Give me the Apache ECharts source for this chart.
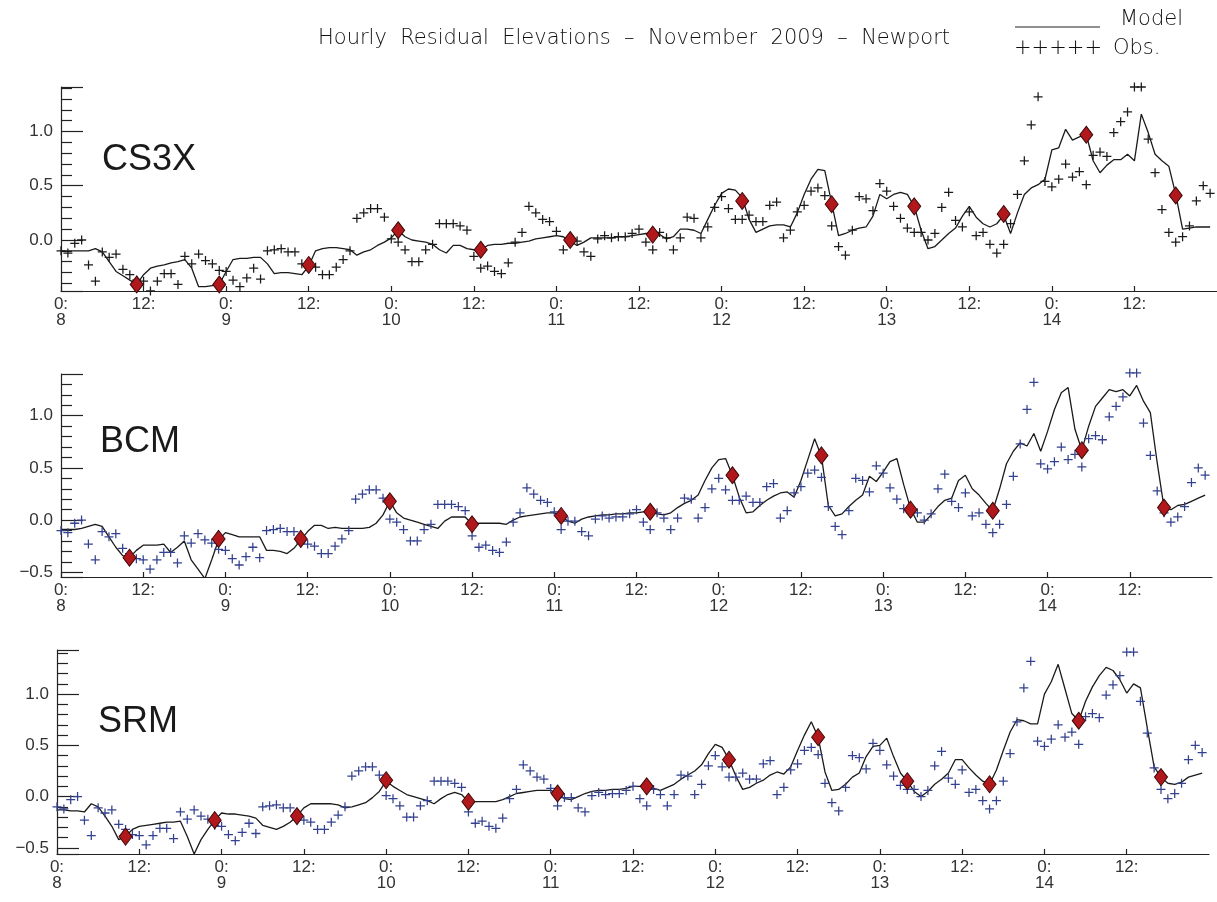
<!DOCTYPE html>
<html>
<head>
<meta charset="utf-8">
<title>Hourly Residual Elevations - November 2009 - Newport</title>
<script src="https://cdn.jsdelivr.net/npm/echarts@6/dist/echarts.min.js"></script>
<style>
  html, body { margin: 0; padding: 0; background: #fff; }
  #chart { width: 1217px; height: 902px; }
</style>
</head>
<body>
<div id="chart"></div>
<script>
// hourly values from 8 Nov 2009 0:00, index = hour
var obs = [
  -0.10, -0.12, -0.03, 0.00, -0.23, -0.38, -0.11, -0.16, -0.13, -0.27,
  -0.32, -0.37, -0.38, -0.47, -0.38, -0.31, -0.31, -0.41, -0.15, -0.22,
  -0.13, -0.19, -0.22, -0.28, -0.29, -0.37, -0.43, -0.35, -0.26, -0.36,
  -0.10, -0.09, -0.08, -0.11, -0.11, -0.22, -0.23, -0.25, -0.32, -0.32,
  -0.25, -0.18, -0.10, 0.20, 0.25, 0.29, 0.29, 0.21, 0.01, -0.02,
  -0.09, -0.20, -0.20, -0.09, -0.04, 0.15, 0.15, 0.15, 0.13, 0.09,
  -0.15, -0.26, -0.24, -0.29, -0.31, -0.21, -0.02, 0.07, 0.31, 0.25,
  0.19, 0.17, 0.08, -0.09, -0.01, -0.01, -0.11, -0.15, 0.01, 0.04,
  0.02, 0.03, 0.03, 0.06, 0.10, -0.02, -0.09, 0.07, 0.02, -0.09,
  0.02, 0.21, 0.20, 0.02, 0.12, 0.30, 0.40, 0.29, 0.19, 0.19,
  0.23, 0.17, 0.17, 0.32, 0.35, 0.02, 0.09, 0.26, 0.32, 0.45,
  0.48, 0.41, 0.13, -0.06, -0.14, 0.09, 0.40, 0.38, 0.27, 0.52,
  0.45, 0.31, 0.20, 0.11, 0.07, 0.07, 0.00, 0.06, 0.30, 0.44,
  0.18, 0.12, 0.26, 0.04, 0.07, -0.04, -0.12, -0.04, 0.15, 0.42,
  0.73, 1.06, 1.32, 0.54, 0.49, 0.56, 0.70, 0.58, 0.63, 0.51,
  0.78, 0.81, 0.77, 0.99, 1.09, 1.18, 1.41, 1.41, 0.93, 0.62,
  0.28, 0.07, -0.02, 0.03, 0.13, 0.36, 0.50, 0.43
]

var cs3x = [
  -0.10, -0.10, -0.10, -0.10, -0.10, -0.08, -0.11, -0.20, -0.29, -0.33,
  -0.37, -0.41, -0.32, -0.26, -0.24, -0.23, -0.21, -0.20, -0.18, -0.26,
  -0.43, -0.43, -0.42, -0.41, -0.29, -0.18, -0.17, -0.17, -0.16, -0.16,
  -0.22, -0.31, -0.30, -0.30, -0.31, -0.32, -0.24, -0.10, -0.08, -0.07,
  -0.07, -0.08, -0.09, -0.14, -0.11, -0.09, -0.05, -0.02, 0.02, 0.09,
  0.03, 0.00, -0.01, -0.02, -0.04, -0.09, -0.12, -0.05, -0.05, -0.08,
  -0.09, -0.09, -0.05, -0.04, -0.04, -0.03, -0.03, -0.02, -0.01, 0.01,
  0.02, 0.03, 0.04, 0.03, -0.01, -0.05, -0.02, 0.02, 0.02, 0.02,
  0.02, 0.03, 0.03, 0.04, 0.05, 0.06, 0.06, 0.05, 0.01, 0.03,
  0.10, 0.10, 0.09, 0.06, 0.19, 0.32, 0.43, 0.47, 0.46, 0.39,
  0.19, 0.07, 0.10, 0.13, 0.14, 0.14, 0.12, 0.25, 0.42, 0.56,
  0.65, 0.64, 0.34, 0.04, 0.06, 0.09, 0.11, 0.12, 0.22, 0.42,
  0.38, 0.42, 0.44, 0.42, 0.31, 0.09, -0.08, -0.06, 0.00, 0.06,
  0.11, 0.22, 0.31, 0.21, 0.15, 0.12, 0.15, 0.23, 0.06, 0.25,
  0.42, 0.48, 0.51, 0.56, 0.83, 0.85, 1.02, 0.92, 0.95, 0.97,
  0.73, 0.62, 0.69, 0.74, 0.74, 0.79, 0.73, 1.16, 0.99, 0.79,
  0.73, 0.68, 0.42, 0.10, 0.11, 0.12, 0.12, 0.12
]

var bcm = [
  -0.09, -0.09, -0.09, -0.08, -0.06, -0.04, -0.06, -0.16, -0.26, -0.34,
  -0.36, -0.29, -0.24, -0.24, -0.24, -0.23, -0.31, -0.26, -0.20, -0.38,
  -0.47, -0.56, -0.38, -0.19, -0.12, -0.14, -0.16, -0.16, -0.16, -0.16,
  -0.29, -0.29, -0.30, -0.32, -0.27, -0.19, -0.11, -0.05, -0.05, -0.08,
  -0.07, -0.08, -0.08, -0.08, -0.08, -0.07, -0.03, 0.05, 0.18, 0.07,
  0.02, 0.00, -0.02, -0.04, -0.06, -0.08, -0.01, 0.03, 0.03, 0.03,
  -0.04, -0.03, -0.03, -0.03, -0.03, -0.04, 0.00, 0.03, 0.04, 0.05,
  0.06, 0.07, 0.07, 0.04, -0.01, -0.03, 0.01, 0.03, 0.04, 0.05,
  0.05, 0.06, 0.06, 0.07, 0.07, 0.08, 0.08, 0.06, 0.05, 0.07,
  0.12, 0.16, 0.19, 0.24, 0.38, 0.50, 0.58, 0.59, 0.43, 0.22,
  0.07, 0.08, 0.14, 0.19, 0.23, 0.26, 0.27, 0.22, 0.38, 0.58,
  0.78, 0.61, 0.14, 0.04, 0.06, 0.13, 0.19, 0.24, 0.42, 0.37,
  0.46, 0.56, 0.59, 0.34, 0.11, -0.02, -0.02, 0.05, 0.13, 0.19,
  0.21, 0.38, 0.43, 0.30, 0.24, 0.16, 0.09, 0.30, 0.54, 0.66,
  0.74, 0.71, 0.83, 0.66, 0.85, 1.06, 1.22, 1.27, 0.87, 0.67,
  0.90, 1.09, 1.17, 1.25, 1.23, 1.25, 1.19, 1.29, 1.14, 1.03,
  0.55, 0.12, 0.10, 0.14, 0.15, 0.18, 0.21, 0.24
]

var srm = [
  -0.13, -0.13, -0.14, -0.14, -0.15, -0.07, -0.10, -0.19, -0.29, -0.42,
  -0.39, -0.32, -0.29, -0.28, -0.27, -0.26, -0.25, -0.25, -0.24, -0.39,
  -0.56, -0.42, -0.32, -0.23, -0.16, -0.17, -0.17, -0.18, -0.19, -0.21,
  -0.28, -0.30, -0.32, -0.29, -0.25, -0.19, -0.11, -0.07, -0.07, -0.07,
  -0.07, -0.08, -0.11, -0.10, -0.08, -0.06, -0.01, 0.05, 0.15, 0.10,
  0.06, 0.02, 0.00, -0.02, -0.04, -0.07, -0.02, 0.02, 0.04, 0.02,
  -0.05, -0.05, -0.05, -0.05, -0.05, -0.03, 0.00, 0.03, 0.04, 0.05,
  0.06, 0.06, 0.06, 0.03, -0.02, -0.03, 0.00, 0.03, 0.05, 0.06,
  0.06, 0.07, 0.07, 0.08, 0.10, 0.10, 0.10, 0.08, 0.06, 0.09,
  0.12, 0.17, 0.21, 0.25, 0.31, 0.42, 0.51, 0.48, 0.36, 0.20,
  0.07, 0.09, 0.13, 0.16, 0.21, 0.24, 0.22, 0.29, 0.45, 0.60,
  0.73, 0.58, 0.24, 0.06, 0.07, 0.12, 0.19, 0.23, 0.39, 0.49,
  0.50, 0.57, 0.39, 0.23, 0.15, 0.05, 0.00, 0.05, 0.12, 0.17,
  0.23, 0.36, 0.36, 0.28, 0.21, 0.15, 0.12, 0.26, 0.45, 0.63,
  0.75, 0.74, 0.71, 0.71, 1.00, 1.12, 1.29, 1.05, 0.81, 0.74,
  0.93, 1.07, 1.18, 1.26, 1.23, 1.14, 1.01, 1.10, 1.06, 0.67,
  0.29, 0.19, 0.13, 0.12, 0.14, 0.19, 0.21, 0.23
]

// red diamonds: [hour, value]
var cs3xMarks = [[11, -0.41], [23, -0.41], [36, -0.23], [49, 0.09], [61, -0.09], [74, 0.00], [86, 0.05],
  [99, 0.36], [112, 0.33], [124, 0.31], [137, 0.24], [149, 0.97], [162, 0.41]]
var bcmMarks = [[10, -0.36], [23, -0.18], [35, -0.18], [48, 0.18], [60, -0.04], [73, 0.04], [86, 0.08],
  [98, 0.43], [111, 0.62], [124, 0.10], [136, 0.09], [149, 0.67], [161, 0.12]]
var srmMarks = [[10, -0.39], [23, -0.23], [35, -0.19], [48, 0.16], [60, -0.05], [73, 0.03], [86, 0.10],
  [98, 0.36], [111, 0.58], [124, 0.15], [136, 0.12], [149, 0.74], [161, 0.19]]

var days = [8, 9, 10, 11, 12, 13, 14, 15]

var panels = [
  {name: 'CS3X', model: cs3x, marks: cs3xMarks, obsColor: '#1a1a1a', left: 61, top: 87, width: 1159, height: 204, ymin: -0.47, ymax: 1.41, labelLeft: 102, labelTop: 142},
  {name: 'BCM', model: bcm, marks: bcmMarks, obsColor: '#33418f', left: 61, top: 374, width: 1151, height: 203, ymin: -0.545, ymax: 1.40, labelLeft: 100, labelTop: 424},
  {name: 'SRM', model: srm, marks: srmMarks, obsColor: '#33418f', left: 57, top: 650, width: 1152, height: 204, ymin: -0.56, ymax: 1.43, labelLeft: 98, labelTop: 704}
]

var plus = 'path://M4.3,0H5.7V4.3H10V5.7H5.7V10H4.3V5.7H0V4.3H4.3Z'
var axisColor = '#222'
var labelFont = 'Liberation Sans'
var headStyle = {fontFamily: 'DejaVu Sans', fontWeight: 200, fontSize: 21, color: '#111'}

function pairs (arr) {
  return arr.map(function (v, h) { return [h, v] })
}

var grids = [], xAxes = [], yAxes = [], series = []
var titles = [
  {text: 'Hourly  Residual  Elevations  \u2013  November  2009  \u2013  Newport', left: 318, top: 28, padding: 0, textStyle: headStyle},
  {text: 'Model', left: 1120, top: 9, padding: 0, textStyle: headStyle},
  {text: '+++++', left: 1014, top: 38, padding: 0, textStyle: headStyle},
  {text: 'Obs.', left: 1113, top: 38, padding: 0, textStyle: headStyle}
]

panels.forEach(function (p, i) {
  grids.push({left: p.left, top: p.top, width: p.width, height: p.height, containLabel: false})
  xAxes.push({
    type: 'value', gridIndex: i, min: 0, max: 168, interval: 12,
    axisLine: {onZero: false, lineStyle: {color: axisColor, width: 1.2}},
    axisTick: {inside: true, length: 5, lineStyle: {color: axisColor, width: 1.2}},
    splitLine: {show: false},
    axisLabel: {
      showMaxLabel: false, margin: 5, fontSize: 17, lineHeight: 16, color: '#333', fontFamily: labelFont,
      formatter: function (h) {
        if (h % 24 === 0) return '0:\n' + days[h / 24]
        return '12:'
      }
    }
  })
  yAxes.push({
    type: 'value', gridIndex: i, min: p.ymin, max: p.ymax, splitNumber: 4, minInterval: 0.5, maxInterval: 0.5,
    axisLine: {show: true, onZero: false, lineStyle: {color: axisColor, width: 1.2}},
    axisTick: {show: true, inside: true, length: 22, lineStyle: {color: axisColor, width: 1.2}},
    minorTick: {show: true, splitNumber: 5, length: 11, lineStyle: {color: axisColor, width: 1.2}},
    splitLine: {show: false},
    axisLabel: {
      showMinLabel: false, showMaxLabel: false, margin: 8, fontSize: 17, color: '#333', fontFamily: labelFont,
      formatter: function (v) {
        return v < 0 ? '\u2212' + Math.abs(v).toFixed(1) : v.toFixed(1)
      }
    }
  })
  titles.push({text: p.name, left: p.labelLeft, top: p.labelTop, padding: 0,
    textStyle: {fontFamily: 'Liberation Sans', fontWeight: 'normal', fontSize: 36, color: '#1a1a1a'}})

  series.push({
    name: p.name + ' model', type: 'line', xAxisIndex: i, yAxisIndex: i,
    data: pairs(p.model), showSymbol: false, symbol: 'none', z: 2,
    lineStyle: {color: '#1a1a1a', width: 1.3}
  })
  series.push({
    name: p.name + ' obs', type: 'scatter', xAxisIndex: i, yAxisIndex: i,
    data: pairs(obs), symbol: plus, symbolSize: 9, clip: false, z: 3,
    itemStyle: {color: p.obsColor, opacity: 1}
  })
  series.push({
    name: p.name + ' marks', type: 'scatter', xAxisIndex: i, yAxisIndex: i,
    data: p.marks, symbol: 'diamond', symbolSize: [13, 17], clip: false, z: 4,
    itemStyle: {color: '#b0181c', borderColor: '#3c0808', borderWidth: 1, opacity: 1}
  })
})

var chart = echarts.init(document.getElementById('chart'))
chart.setOption({
  animation: false,
  backgroundColor: '#fff',
  title: titles,
  grid: grids,
  xAxis: xAxes,
  yAxis: yAxes,
  series: series,
  graphic: [
    {type: 'line', shape: {x1: 1015, y1: 27, x2: 1100, y2: 27}, style: {stroke: '#222', lineWidth: 1.2}}
  ]
})
</script>
</body>
</html>
